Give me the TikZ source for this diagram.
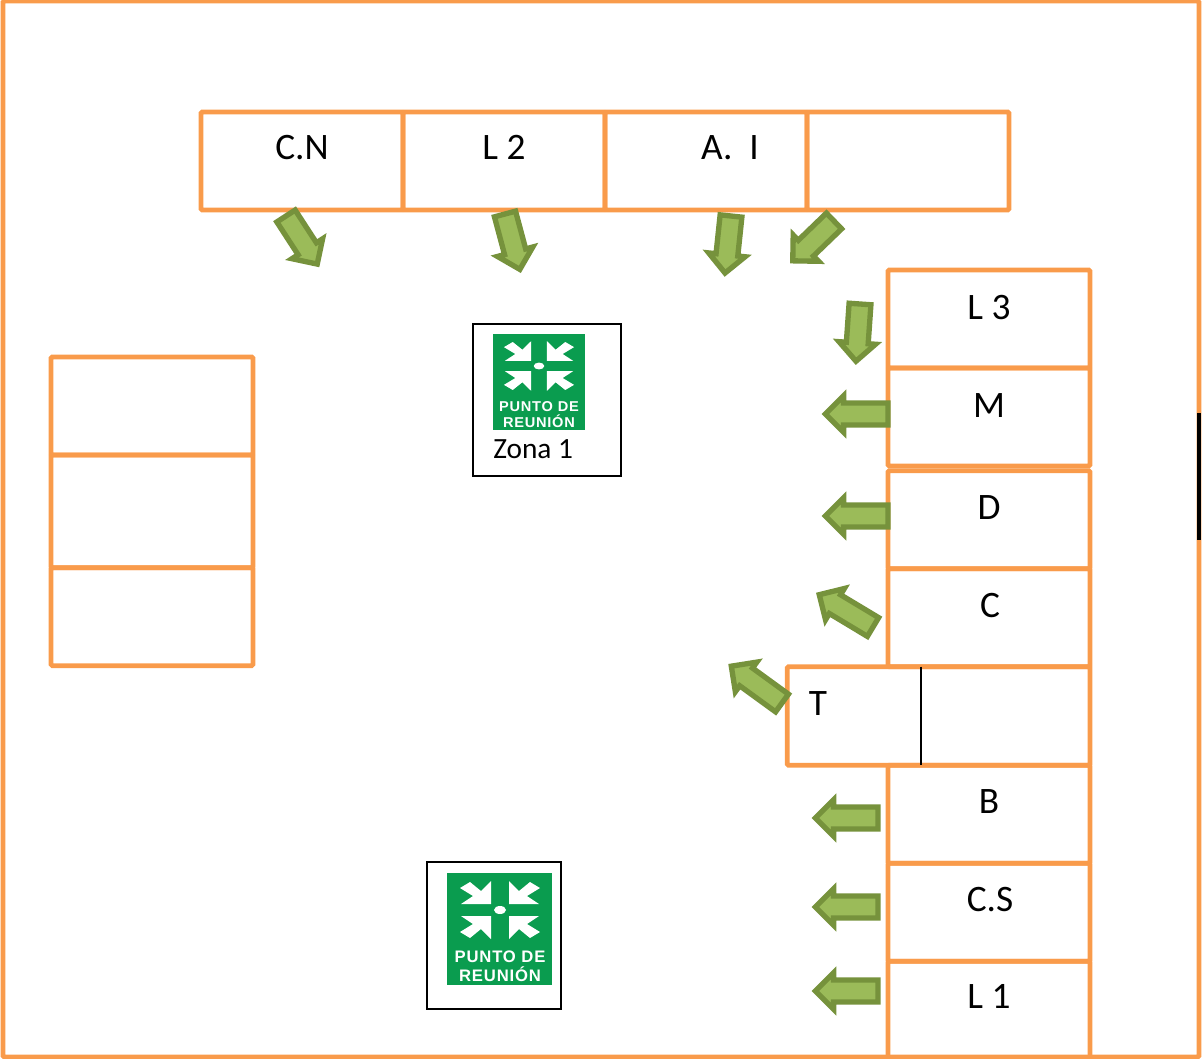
\documentclass[tikz,border=0pt]{standalone}
\usepackage{fontspec}
\setmainfont{Carlito}
\newfontfamily\signfont[LetterSpace=5]{Liberation Sans}
\usetikzlibrary{calc,positioning,shapes.arrows}
\definecolor{wallorange}{HTML}{F99B4B}
\definecolor{arrowfill}{HTML}{9BBB59}
\definecolor{arrowedge}{HTML}{76923C}
\definecolor{signgreen}{HTML}{0A9C4F}
\tikzset{
	room/.style={
		draw=wallorange,
		line width=3.6pt,
		rounded corners=1pt,
		outer sep=0pt,
		inner sep=0pt,
		minimum width=151.5pt,
		minimum height=#1,
	},
	room/.default=73.5pt,
	roomname/.style={
		anchor=base,
		font=\fontsize{28}{28}\selectfont,
	},
	exit/.style={ % requires library shapes.arrows
		draw=arrowedge,
		fill=arrowfill,
		line width=4pt,
		single arrow,
		single arrow head extend=5.5pt,
		single arrow head indent=0pt,
		inner sep=6.2pt,
		outer sep=0pt,
		anchor=tail,
		minimum height=#1,
	},
	exit/.default=43pt,
	signframe/.style={
		draw=black,
		line width=1.5pt,
		inner sep=0pt,
		outer sep=0pt,
	},
	signtext/.style={
		white,
		transform shape,
		font=\signfont\bfseries\fontsize{12.5}{12.5}\selectfont,
	},
	meeting sign/.pic={
		\fill[signgreen] (-53,-37) rectangle (52,75);
		\foreach \sx/\sy in {1/1,-1/1,1/-1,-1/-1}{
			\fill[white,xscale=\sx,yscale=\sy] (-9,-6)--(-9,-29)--(-19,-19)--(-30,-28)--(-40,-22)--(-27,-14)--(-39,-6)--cycle;
		}
		\fill[white] (0,0) ellipse (6 and 4);
		\node[signtext] at (0,47) {PUNTO DE};
		\node[signtext] at (0,64) {REUNIÓN};
	},
}
\begin{document}
\begin{tikzpicture}[x=0.75pt,y=-0.75pt]
	\useasboundingbox (0,0) rectangle (1202,1059);
	\node[room,minimum width=897pt,minimum height=792pt,anchor=north west] (site) at (3,1) {};
	\draw[black,line width=2.6pt] (1199,413)--(1199,540);
	% top row
	\node[room,anchor=north west] (cn) at (201,112) {};
	\node[room,right=0pt of cn] (ltwo) {};
	\node[room,right=0pt of ltwo] (ai) {};
	\node[room,right=0pt of ai] (spare) {};
	% left block
	\node[room,anchor=north west] (leftone) at (51,357) {};
	\node[room=84.5pt,below=0pt of leftone] (lefttwo) {};
	\node[room,below=0pt of lefttwo] (leftthree) {};
	% right column
	\node[room,anchor=north west] (lthree) at (888,270) {};
	\node[room,below=0pt of lthree] (m) {};
	\node[room,below=3.5pt of m] (d) {};
	\node[room,below=0pt of d] (c) {};
	\node[room=74pt,minimum width=227pt,anchor=north east] (t) at (c.south east) {};
	\node[room,anchor=north east] (b) at (t.south east) {};
	\node[room,below=0pt of b] (cs) {};
	\node[room,below=0pt of cs] (lone) {};
	\draw[black,line width=1.5pt] ($(t.north west)!.442!(t.north east)$)--($(t.south west)!.442!(t.south east)$);
	% names
	\node[roomname] (cnname) at (302,160) {C.N};
	\node[roomname] (ltwoname) at (504,160) {L 2};
	\node[roomname] (ainame) at (730,160) {A.\ \ I};
	\node[roomname] (lthreename) at (989,319) {L 3};
	\node[roomname] (mname) at (989,417) {M};
	\node[roomname] (dname) at (989,519) {D};
	\node[roomname] (cname) at (990,617) {C};
	\node[roomname] (tname) at (818,715) {T};
	\node[roomname] (bname) at (989,813) {B};
	\node[roomname] (csname) at (990,911) {C.S};
	\node[roomname] (lonename) at (989,1008) {L 1};
	% exits
	\node[exit,rotate=-57] (ecn) at (286,216) {};
	\node[exit,rotate=-75] (eltwo) at (505,214) {};
	\node[exit,rotate=-96] (eai) at (731,216) {};
	\node[exit,rotate=-136] (espare) at (834,221) {};
	\node[exit,rotate=-94] (elthree) at (860,304) {};
	\node[exit=47pt,rotate=180] (em) at (888,414) {};
	\node[exit=47pt,rotate=180] (ed) at (888,516) {};
	\node[exit=47pt,rotate=149] (ec) at (873,627) {};
	\node[exit=47pt,rotate=144] (et) at (782,703) {};
	\node[exit=47pt,rotate=180] (eb) at (878,818) {};
	\node[exit=47pt,rotate=180] (ecs) at (878,907) {};
	\node[exit=47pt,rotate=180] (elone) at (878,991) {};
	% meeting points
	\node[signframe,minimum width=111pt,minimum height=114pt,anchor=north west] (zoneone) at (473,324) {};
	\pic[xscale=.876,yscale=.857] at (539,366) {meeting sign};
	\node[anchor=base west,inner sep=0pt,font=\fontsize{22}{22}\selectfont] (zoneonename) at (493,458) {Zona 1};
	\node[signframe,minimum width=100.5pt,minimum height=110pt,anchor=north west] (zonetwo) at (427,862) {};
	\pic at (500,910) {meeting sign};
\end{tikzpicture}
\end{document}
